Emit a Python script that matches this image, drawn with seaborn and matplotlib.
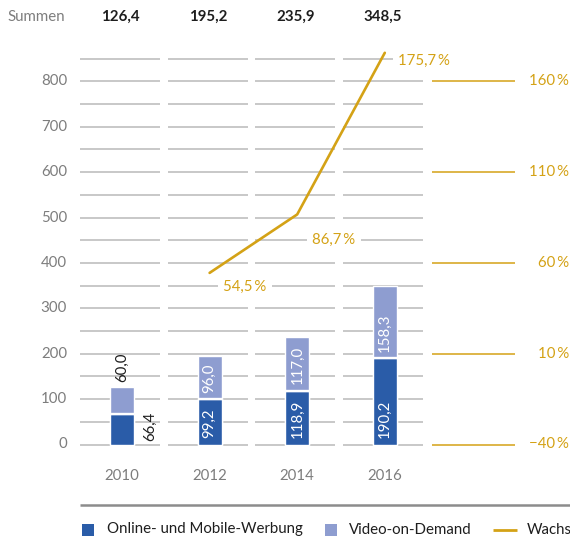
import pandas as pd
import matplotlib
matplotlib.use("Agg")
import matplotlib.pyplot as plt
from matplotlib.patches import Rectangle
import seaborn as sns

sns.set_style("white")
plt.rcParams['font.family'] = ['Lato', 'DejaVu Sans']

# data
years = ["2010", "2012", "2014", "2016"]
online = [66.4, 99.2, 118.9, 190.2]
video = [60.0, 96.0, 117.0, 158.3]
totals = [126.4, 195.2, 235.9, 348.5]
growth_years = ["2012", "2014", "2016"]
growth = [54.5, 86.7, 175.7]
left_ticks = [0, 100, 200, 300, 400, 500, 600, 700, 800]
right_ticks = [-40, 10, 60, 110, 160]
legend_labels = ["Online- und Mobile-Werbung", "Video-on-Demand", "Wachstum"]

DARK = "#2a5ca8"
LIGHT = "#8e9dd0"
GOLD = "#d4a216"
GRID = "#bfbfbf"
GRAY = "#7d7d7d"
INK = "#1e1e1e"
FS = 10.8

# pixel layout of the picture (figure is 570 x 541)
W, H = 570, 541
X0, STEP = 122, 87.6      # x pixel of first year, pixels between years
Y0, PPU = 444.5, 0.454    # y pixel of value 0, pixels per unit


def px_x(p):
    return (p - X0) / STEP


def px_y(p):
    return (Y0 - p) / PPU


def fmt(v):
    return f"{v:.1f}".replace(".", ",")


def pct_to_left(p):
    # right axis: -40 % sits on 0, 160 % on 800
    return (p + 40) * 4


fig = plt.figure(figsize=(W / 100, H / 100), dpi=100)
ax = fig.add_axes([0, 0, 1, 1])

# grid segments per year
for v in range(0, 851, 50):
    for i in range(len(years)):
        ax.hlines(v, i - 0.479, i + 0.436, color=GRID, lw=1.2, zorder=1)

# gold segments of the right scale
for t in right_ticks:
    ax.hlines(pct_to_left(t), px_x(432), px_x(515), color=GOLD, lw=1.1, zorder=1)
    ax.text(px_x(569), pct_to_left(t), f"{'−' if t < 0 else ''}{abs(t)}\u2009%",
            ha="right", va="center", color=GOLD, fontsize=FS)

# stacked bars
df = pd.DataFrame({"Jahr": years, "total": totals, "online": online})
sns.barplot(data=df, x="Jahr", y="total", color=LIGHT, saturation=1,
            width=0.274, ax=ax, zorder=2)
sns.barplot(data=df, x="Jahr", y="online", color=DARK, saturation=1,
            width=0.274, ax=ax, zorder=3)
ax.hlines(online, [i - 0.137 for i in range(4)], [i + 0.137 for i in range(4)],
          color="white", lw=1.7, zorder=4)

# value labels in the bars
for i, (o, vd, t) in enumerate(zip(online, video, totals)):
    if i == 0:
        ax.annotate(fmt(o), (i, 0), xytext=(20, 2.5), textcoords="offset points",
                    rotation=90, ha="center", va="bottom", color=INK, fontsize=FS)
        ax.annotate(fmt(vd), (i, t), xytext=(0, 4), textcoords="offset points",
                    rotation=90, ha="center", va="bottom", color=INK, fontsize=FS)
    else:
        ax.annotate(fmt(o), (i, 0), xytext=(0, 5), textcoords="offset points",
                    rotation=90, ha="center", va="bottom", color="white",
                    fontsize=FS, zorder=5)
        ax.annotate(fmt(vd), (i, o), xytext=(0, 4.5), textcoords="offset points",
                    rotation=90, ha="center", va="bottom", color="white",
                    fontsize=FS, zorder=5)

# growth line
gx = [years.index(y) for y in growth_years]
gy = [pct_to_left(g) for g in growth]
sns.lineplot(x=gx, y=gy, color=GOLD, lw=1.9, ax=ax, zorder=6)
label_offsets = [(9.7, -10), (10.8, -18.7), (9.4, -5.8)]
for x, y, g, off in zip(gx, gy, growth, label_offsets):
    ax.annotate(f"{fmt(g)}\u2009%", (x, y), xytext=off, textcoords="offset points",
                ha="left", va="center", color=GOLD, fontsize=FS, zorder=5,
                bbox=dict(boxstyle="square,pad=0.35", fc="white", ec="none"))

# left tick labels, years, sums
for v in left_ticks:
    ax.text(px_x(67), v, str(v), ha="right", va="center", color=GRAY, fontsize=FS)
for i, y in enumerate(years):
    ax.text(i, px_y(476), y, ha="center", va="center", color=GRAY, fontsize=FS)
ax.text(px_x(7), px_y(17), "Summen", ha="left", va="center", color=GRAY, fontsize=FS)
for i, t in enumerate(totals):
    ax.text(i - 0.02, px_y(17), fmt(t), ha="center", va="center", color=INK,
            fontsize=FS, fontweight="bold")

# bottom rule
ax.hlines(px_y(504.5), px_x(80), px_x(570), color="#8c8c8c", lw=1.8)

# legend (the last entry runs off the right edge, as in the original)
ly = px_y(529.5)
for left, col in [(82, DARK), (325, LIGHT)]:
    ax.add_patch(Rectangle((px_x(left), px_y(535.5)), 12 / STEP, 12 / PPU,
                           color=col, lw=0, clip_on=False))
ax.hlines(ly, px_x(493), px_x(517), color=GOLD, lw=2)
for left, lab in zip([107, 349, 527], legend_labels):
    ax.text(px_x(left), ly, lab, ha="left", va="center", color=INK, fontsize=FS)

ax.set_xlim(px_x(0), px_x(W))
ax.set_ylim(px_y(H), px_y(0))
ax.set_axis_off()

fig.savefig("out.png", dpi=100)
